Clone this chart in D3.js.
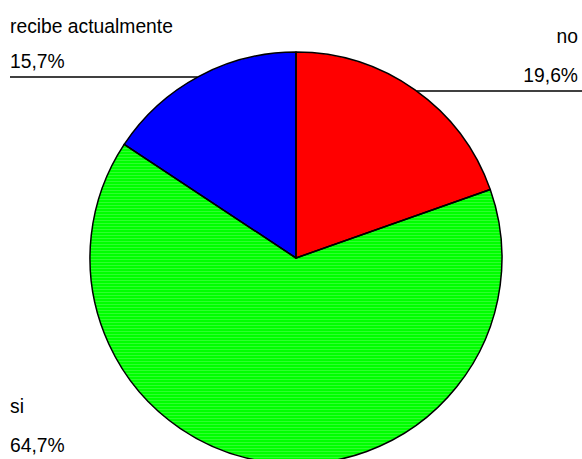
<!DOCTYPE html>
<html>
<head>
<meta charset="utf-8">
<script src="https://cdn.jsdelivr.net/npm/d3@7"></script>
<style>
  html, body { margin: 0; padding: 0; background: #fff; }
  svg { display: block; }
  text { font-family: "Liberation Sans", Arial, sans-serif; fill: #000; }
</style>
</head>
<body>
<svg id="chart" width="582" height="459"></svg>
<script>
// Survey answers, clockwise from 12 o'clock
const categories = ["no", "si", "recibe actualmente"];
const values = [19.6, 64.7, 15.7];
const colors = ["#ff0000", "#00ff00", "#0000ff"];

const width = 582, height = 459;
const cx = 296, cy = 258, radius = 206;

const locale = d3.formatLocale({ decimal: ",", thousands: ".", grouping: [3], currency: ["", ""] });
const pct = v => locale.format(".1f")(v) + "%";

const svg = d3.select("#chart");

// faint horizontal streaks laid over the flat fills
const defs = svg.append("defs");
const streak = defs.append("pattern")
  .attr("id", "streak")
  .attr("patternUnits", "userSpaceOnUse")
  .attr("width", 8).attr("height", 3);
streak.append("rect").attr("y", 1).attr("width", 8).attr("height", 1)
  .attr("fill", "#ffffff").attr("opacity", 0.18);

const slices = categories.map((c, i) => ({ name: c, value: values[i], color: colors[i] }));

const pie = d3.pie().sort(null).value(d => d.value);
const arc = d3.arc().innerRadius(0).outerRadius(radius);

const g = svg.append("g").attr("transform", `translate(${cx},${cy})`);
const arcs = pie(slices);

g.selectAll("path.slice")
  .data(arcs)
  .join("path")
  .attr("class", "slice")
  .attr("d", arc)
  .attr("fill", d => d.data.color);

g.selectAll("path.streak")
  .data(arcs.filter(d => d.data.name === "si"))
  .join("path")
  .attr("class", "streak")
  .attr("d", arc)
  .attr("fill", "url(#streak)");

g.selectAll("path.outline")
  .data(arcs)
  .join("path")
  .attr("class", "outline")
  .attr("d", arc)
  .attr("fill", "none")
  .attr("stroke", "#000")
  .attr("stroke-width", 1.5)
  .attr("stroke-linejoin", "round");

// Label layout: name on top, value below; some carry a horizontal leader to the rim
const labelLayout = {
  "recibe actualmente": { x: 10, nameY: 33, valueY: 68, anchor: "start", lineY: 77 },
  "no": { x: 578, nameY: 43, valueY: 82, anchor: "end", lineY: 91 },
  "si": { x: 10, nameY: 413, valueY: 452, anchor: "start", lineY: null }
};

const labels = svg.append("g").attr("font-size", 19.3);
slices.forEach(s => {
  const L = labelLayout[s.name];
  labels.append("text").attr("x", L.x).attr("y", L.nameY).attr("text-anchor", L.anchor).text(s.name);
  labels.append("text").attr("x", L.x).attr("y", L.valueY).attr("text-anchor", L.anchor).text(pct(s.value));
  if (L.lineY !== null) {
    const dy = cy - L.lineY;
    const dx = Math.sqrt(radius * radius - dy * dy);
    const rimX = L.anchor === "start" ? cx - dx : cx + dx;
    const edgeX = L.anchor === "start" ? L.x : width;
    labels.append("line")
      .attr("x1", edgeX).attr("x2", rimX)
      .attr("y1", L.lineY).attr("y2", L.lineY)
      .attr("stroke", "#000").attr("stroke-width", 1.4);
  }
});
</script>
</body>
</html>
